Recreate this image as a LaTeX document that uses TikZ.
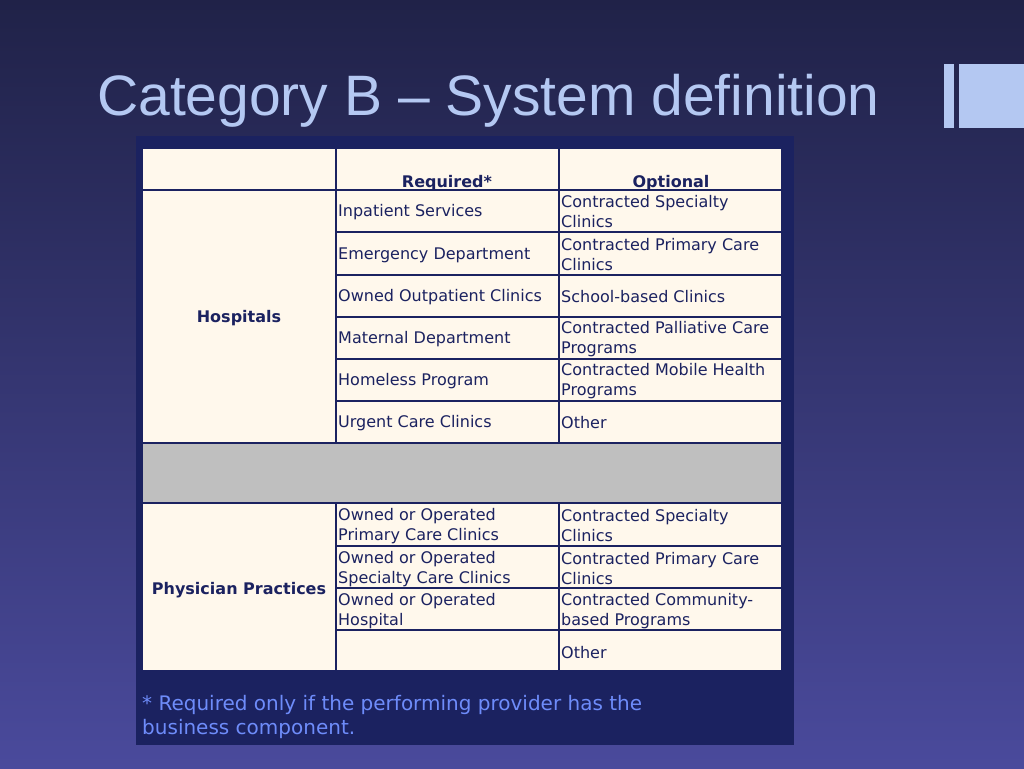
\documentclass[tikz,border=0pt]{standalone}
\usepackage{fontspec}
\setmainfont{DejaVu Sans}
\newfontfamily\titlefont{Liberation Sans}
\definecolor{navy}{HTML}{1B2260}
\definecolor{cream}{HTML}{FFF8EC}
\definecolor{titleblue}{HTML}{B4C8F2}
\definecolor{footblue}{HTML}{6E8CFA}
\tikzset{
  cell/.style={anchor=west, inner sep=0pt, text=navy, font=\fontsize{16}{20}\selectfont, align=left},
  headcell/.style={anchor=base, inner sep=0pt, text=navy, font=\fontsize{16}{20}\selectfont\bfseries},
  gridline/.style={draw=navy, line width=1.6pt}
}
\begin{document}
\begin{tikzpicture}[x=1pt,y=-1pt]
  \useasboundingbox (0,0) rectangle (1024,768);
  \shade[top color={rgb,255:red,32;green,34;blue,72}, bottom color={rgb,255:red,74;green,74;blue,156}] (0,0) rectangle (1024,768);
  % title and logo
  \node[anchor=base west, inner sep=0pt, text=titleblue, font=\titlefont\fontsize{57}{60}\selectfont] (title) at (97,115) {Category B – System definition};
  \fill[titleblue] (944,64) rectangle (954,128);
  \fill[titleblue] (959,64) rectangle (1024,128);
  % panel
  \fill[navy] (136,136) rectangle (794,745);
  \fill[cream] (142,148) rectangle (782,671);
  \fill[black!25] (142,443) rectangle (782,503);
  % grid
  \draw[gridline] (142,148) rectangle (782,671);
  \draw[gridline] (142,190) -- (782,190);
  \draw[gridline] (142,443) -- (782,443);
  \draw[gridline] (142,503) -- (782,503);
  \foreach \y in {232,275,317,359,401,546,588,630}
    \draw[gridline] (336,\y) -- (782,\y);
  \foreach \x in {336,559}
  {
    \draw[gridline] (\x,148) -- (\x,443);
    \draw[gridline] (\x,503) -- (\x,671);
  }
  % header
  \node[headcell] (req) at (447,187) {Required*};
  \node[headcell] (opt) at (671,187) {Optional};
  % hospitals
  \node[headcell, anchor=center] (hosp) at (239,318) {Hospitals};
  \node[cell] (h1) at (338,212) {Inpatient Services};
  \node[cell] (h2) at (338,255) {Emergency Department};
  \node[cell] (h3) at (338,297) {Owned Outpatient Clinics};
  \node[cell] (h4) at (338,339) {Maternal Department};
  \node[cell] (h5) at (338,381) {Homeless Program};
  \node[cell] (h6) at (338,423) {Urgent Care Clinics};
  \node[cell] (o1) at (561,212) {Contracted Specialty\\Clinics};
  \node[cell] (o2) at (561,255) {Contracted Primary Care\\Clinics};
  \node[cell] (o3) at (561,297) {School-based Clinics};
  \node[cell] (o4) at (561,339) {Contracted Palliative Care\\Programs};
  \node[cell] (o5) at (561,381) {Contracted Mobile Health\\Programs};
  \node[cell] (o6) at (561,423) {Other};
  % physician practices
  \node[headcell, anchor=center] (phys) at (239,590) {Physician Practices};
  \node[cell] (p1) at (338,526) {Owned or Operated\\Primary Care Clinics};
  \node[cell] (p2) at (338,569) {Owned or Operated\\Specialty Care Clinics};
  \node[cell] (p3) at (338,611) {Owned or Operated\\Hospital};
  \node[cell] (q1) at (561,526) {Contracted Specialty\\Clinics};
  \node[cell] (q2) at (561,569) {Contracted Primary Care\\Clinics};
  \node[cell] (q3) at (561,611) {Contracted Community-\\based Programs};
  \node[cell] (q4) at (561,653) {Other};
  % footnote
  \node[anchor=north west, inner sep=0pt, align=left, text=footblue, font=\fontsize{20}{24}\selectfont] (note) at (142,695) {* Required only if the performing provider has the\\business component.};
\end{tikzpicture}
\end{document}
